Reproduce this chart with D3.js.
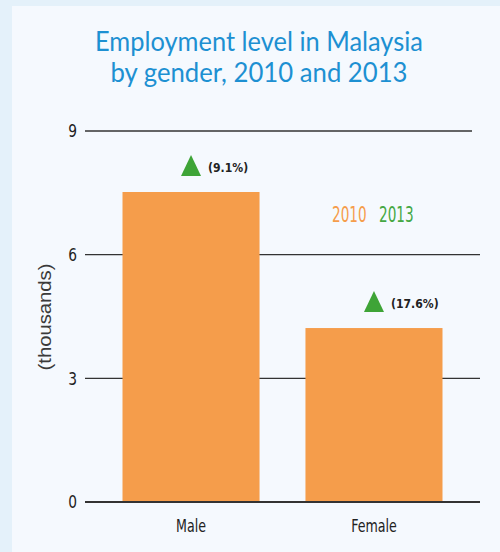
<!DOCTYPE html>
<html>
<head>
<meta charset="utf-8">
<script src="https://cdn.jsdelivr.net/npm/d3@7"></script>
<style>
  html, body { margin: 0; padding: 0; background: #e4f1fa; }
  svg { display: block; }
  .narrow { font-family: "DejaVu Sans Condensed", "DejaVu Sans", sans-serif; font-stretch: condensed; }
</style>
</head>
<body>
<div id="chart"></div>
<script>
'use strict';

var categories = ['Male', 'Female'];
var values2010 = [7.52, 4.22];
var growthLabels = ['(9.1%)', '(17.6%)'];
var yTicks = [0, 3, 6, 9];
var titleLines = ['Employment level in Malaysia', 'by gender, 2010 and 2013'];
var legendItems = ['2010', '2013'];

var width = 500,
    height = 552;

var orange = '#f59d4b',
    green = '#3ea437',
    blue = '#1d90d2';

var svg = d3.select('#chart').append('svg')
    .attr('width', width)
    .attr('height', height);

// squeeze text horizontally, like the condensed face of the original
function condense(sel, k) {
    sel.each(function() {
        var w = this.getComputedTextLength();
        d3.select(this)
            .attr('textLength', w * k)
            .attr('lengthAdjust', 'spacingAndGlyphs');
    });
}

// light panel
svg.append('rect')
    .attr('x', 12)
    .attr('y', 6)
    .attr('width', width - 12)
    .attr('height', height - 6)
    .attr('fill', '#f5f9fe');

svg.append('g').selectAll('text')
    .data(titleLines)
    .enter()
    .append('text')
    .attr('x', 259)
    .attr('y', function(d, i) { return 51 + i * 31; })
    .attr('text-anchor', 'middle')
    .attr('font-family', 'Lato, "Noto Sans", sans-serif')
    .attr('font-size', 27)
    .attr('textLength', function(d, i) { return i ? 297 : 328; })
    .attr('lengthAdjust', 'spacingAndGlyphs')
    .attr('fill', blue)
    .text(function(d) { return d; });

var x = d3.scaleBand()
    .domain(categories)
    .range([85, 480])
    .paddingInner(0.251)
    .paddingOuter(0.205);

var y = d3.scaleLinear()
    .domain([0, 9])
    .range([502, 131]);

// tick labels
var yAxis = d3.axisLeft(y)
    .tickValues(yTicks)
    .tickSize(0)
    .tickPadding(8);

var axisG = svg.append('g')
    .attr('transform', 'translate(85,0)')
    .call(yAxis);
axisG.select('.domain').remove();
axisG.selectAll('text')
    .attr('class', 'narrow')
    .attr('font-family', null)
    .attr('font-size', 18)
    .attr('fill', '#222')
    .call(condense, 0.85);

// gridlines
svg.append('g').selectAll('line')
    .data(yTicks)
    .enter()
    .append('line')
    .attr('x1', 85)
    .attr('x2', function(d) { return d === 9 ? 472 : 480; })
    .attr('y1', function(d) { return y(d); })
    .attr('y2', function(d) { return y(d); })
    .attr('stroke', '#333')
    .attr('stroke-width', 1.4);

// bars
svg.append('g').selectAll('rect')
    .data(values2010)
    .enter()
    .append('rect')
    .attr('x', function(d, i) { return x(categories[i]); })
    .attr('y', function(d) { return y(d); })
    .attr('width', x.bandwidth())
    .attr('height', function(d) { return y(0) - y(d); })
    .attr('fill', orange);

// zero line over bars
svg.append('line')
    .attr('x1', 85).attr('x2', 480)
    .attr('y1', y(0)).attr('y2', y(0))
    .attr('stroke', '#333')
    .attr('stroke-width', 2);

// growth markers
var marks = svg.append('g').selectAll('g')
    .data(values2010)
    .enter()
    .append('g')
    .attr('transform', function(d, i) {
        return 'translate(' + (x(categories[i]) + x.bandwidth() / 2) + ',' + (y(d) - 16) + ')';
    });

marks.append('path')
    .attr('d', 'M-10,0L10,0L0,-21Z')
    .attr('fill', green);

marks.append('text')
    .attr('class', 'narrow')
    .attr('x', 17)
    .attr('y', -4)
    .attr('font-weight', 'bold')
    .attr('font-size', 13)
    .attr('fill', '#222')
    .text(function(d, i) { return growthLabels[i]; })
    .call(condense, 0.93);

// legend
svg.append('g').selectAll('text')
    .data(legendItems)
    .enter()
    .append('text')
    .attr('class', 'narrow')
    .attr('x', function(d, i) { return 332 + i * 47; })
    .attr('y', 222)
    .attr('font-size', 21)
    .attr('fill', function(d, i) { return i ? '#45a843' : orange; })
    .text(function(d) { return d; })
    .call(condense, 0.72);

// category labels
svg.append('g').selectAll('text')
    .data(categories)
    .enter()
    .append('text')
    .attr('class', 'narrow')
    .attr('x', function(d) { return x(d) + x.bandwidth() / 2; })
    .attr('y', 532)
    .attr('text-anchor', 'middle')
    .attr('font-size', 18)
    .attr('fill', '#222')
    .text(function(d) { return d; })
    .call(condense, 0.78);

// y axis title
svg.append('text')
    .attr('transform', 'translate(51,317) rotate(-90)')
    .attr('text-anchor', 'middle')
    .attr('font-family', '"Liberation Sans", sans-serif')
    .attr('font-size', 18)
    .attr('fill', '#3a3a3a')
    .attr('textLength', 107)
    .attr('lengthAdjust', 'spacingAndGlyphs')
    .text('(thousands)');
</script>
</body>
</html>
